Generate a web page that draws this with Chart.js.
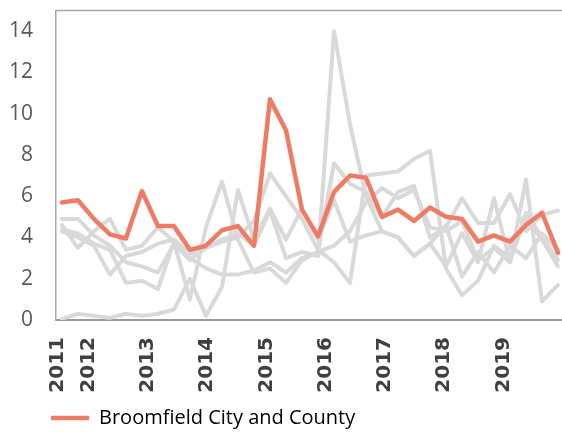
<!DOCTYPE html>
<html>
<head>
<meta charset="utf-8">
<script src="https://cdn.jsdelivr.net/npm/chart.js@4.4.1/dist/chart.umd.min.js"></script>
<style>
    html, body { margin: 0; padding: 0; background: #fff; overflow: hidden; }
    #wrap { width: 562px; height: 435px; position: relative; }
</style>
</head>
<body>
<div id="wrap"><canvas id="chart"></canvas></div>
<script>
// quarterly readings, mid 2011 to end of 2019
const broomfield = [5.7, 5.8, 4.9, 4.15, 3.95, 6.25, 4.55, 4.55, 3.4, 3.6, 4.35, 4.55, 3.6, 10.7, 9.2, 5.35,
    4.05, 6.2, 7.0, 6.9, 5.0, 5.35, 4.8, 5.45, 5.0, 4.9, 3.8, 4.1, 3.8, 4.6, 5.2, 3.25];
const otherA = [4.9, 4.9, 4.1, 3.6, 2.8, 2.6, 2.3, 3.7, 2.9, 3.5, 3.9, 4.2, 3.6, 5.3, 3.0, 3.3,
    3.1, 14.0, 9.5, 6.0, 4.3, 4.0, 3.1, 3.7, 2.6, 4.2, 2.8, 5.9, 2.8, 6.8, 0.9, 1.7];
const otherB = [4.6, 3.5, 4.3, 4.9, 3.4, 3.6, 4.5, 3.8, 1.0, 4.5, 6.7, 3.9, 2.3, 2.5, 1.8, 2.9,
    3.3, 7.6, 6.6, 6.2, 5.0, 6.2, 6.5, 4.0, 4.5, 5.9, 4.7, 4.7, 6.1, 4.3, 5.1, 5.3];
const otherC = [4.3, 4.0, 3.6, 2.2, 3.1, 3.3, 3.7, 3.9, 3.2, 3.5, 3.8, 4.0, 4.8, 7.1, 6.0, 4.9,
    3.4, 2.8, 1.8, 7.0, 7.1, 7.2, 7.8, 8.2, 2.5, 1.2, 1.9, 3.6, 3.0, 4.9, 3.9, 2.6];
const otherD = [0.05, 0.3, 0.2, 0.1, 0.3, 0.2, 0.3, 0.5, 2.0, 0.2, 1.6, 6.3, 3.9, 5.4, 3.9, 5.4,
    3.9, 5.8, 3.8, 4.1, 4.3, 4.0, 3.1, 3.7, 4.6, 2.1, 3.3, 2.3, 3.6, 3.0, 4.2, 3.4];
const otherE = [4.4, 4.2, 3.7, 3.4, 1.8, 1.9, 1.5, 3.8, 3.0, 2.5, 2.2, 2.2, 2.4, 2.8, 2.3, 3.0,
    3.3, 3.6, 4.3, 5.7, 6.4, 5.9, 6.3, 4.5, 4.3, 4.8, 2.9, 3.5, 2.8, 5.2, 4.0, 2.9];

// year labels sit between the quarter points
const yearLabels = ["2011", "2012", "2013", "2014", "2015", "2016", "2017", "2018", "2019"];
const yearTickPos = [-0.24, 1.69, 5.39, 9.08, 12.81, 16.47, 20.16, 23.85, 27.62];
const yTicks = [0, 2, 4, 6, 8, 10, 12, 14];

const RED = "#F07B65";
const GRAY = "#D9D9D9";
const AXIS = "#A6A6A6";

function toPoints(arr) {
    return arr.map((v, i) => ({ x: i, y: v }));
}

function grayLine(arr) {
    return {
        label: "",
        data: toPoints(arr),
        borderColor: GRAY,
        borderWidth: 4,
        pointRadius: 0,
        borderJoinStyle: "round",
        borderCapStyle: "round",
        order: 2
    };
}

// top edge of the plot frame + legend nudge under the plot
const frameTop = {
    id: "frameTop",
    afterLayout(chart) {
        if (chart.legend) {
            chart.legend.left += 31;
            chart.legend.top += 3;
        }
    },
    beforeDatasetsDraw(chart) {
        const { ctx, chartArea } = chart;
        ctx.save();
        ctx.strokeStyle = AXIS;
        ctx.lineWidth = 1.5;
        ctx.beginPath();
        ctx.moveTo(chartArea.left, chartArea.top);
        ctx.lineTo(chartArea.right, chartArea.top);
        ctx.stroke();
        ctx.restore();
    }
};

new Chart(document.getElementById("chart"), {
    type: "line",
    data: {
        datasets: [
            {
                label: "Broomfield City and County",
                data: toPoints(broomfield),
                borderColor: RED,
                backgroundColor: RED,
                borderWidth: 4.5,
                pointRadius: 0,
                borderJoinStyle: "round",
                borderCapStyle: "round",
                order: 1
            },
            grayLine(otherA),
            grayLine(otherB),
            grayLine(otherC),
            grayLine(otherD),
            grayLine(otherE)
        ]
    },
    options: {
        responsive: true,
        maintainAspectRatio: false,
        animation: false,
        layout: { padding: { left: 9, right: 0, top: 0, bottom: 0 } },
        scales: {
            x: {
                type: "linear",
                min: -0.37,
                max: 31.25,
                grid: { display: false, drawTicks: false },
                border: { display: true, color: "#999999", width: 2 },
                afterBuildTicks: (axis) => {
                    axis.ticks = yearTickPos.map((v) => ({ value: v }));
                },
                afterFit: (axis) => {
                    axis.height = 74;
                },
                ticks: {
                    autoSkip: false,
                    minRotation: 90,
                    maxRotation: 90,
                    padding: 17,
                    color: "#404040",
                    font: { family: "DejaVu Sans", size: 20, weight: "bold" },
                    callback: (value, index) => yearLabels[index]
                }
            },
            y: {
                min: 0,
                max: 15,
                grid: { display: false, drawTicks: true, tickLength: 23 },
                border: { display: true, color: AXIS, width: 1.5 },
                afterBuildTicks: (axis) => {
                    axis.ticks = yTicks.map((v) => ({ value: v }));
                },
                ticks: {
                    padding: 0,
                    color: "#595959",
                    font: { family: "Open Sans", size: 21, lineHeight: 1 }
                }
            }
        },
        plugins: {
            legend: {
                position: "bottom",
                align: "start",
                labels: {
                    boxWidth: 38,
                    boxHeight: 4.5,
                    padding: 11,
                    color: "#595959",
                    font: { family: "Open Sans", size: 20 },
                    generateLabels: (chart) => {
                        const ds = chart.data.datasets[0];
                        return [{
                            text: ds.label,
                            fillStyle: RED,
                            strokeStyle: RED,
                            lineWidth: 0,
                            datasetIndex: 0,
                            hidden: false
                        }];
                    }
                }
            },
            tooltip: { enabled: false }
        }
    },
    plugins: [frameTop]
});
</script>
</body>
</html>
